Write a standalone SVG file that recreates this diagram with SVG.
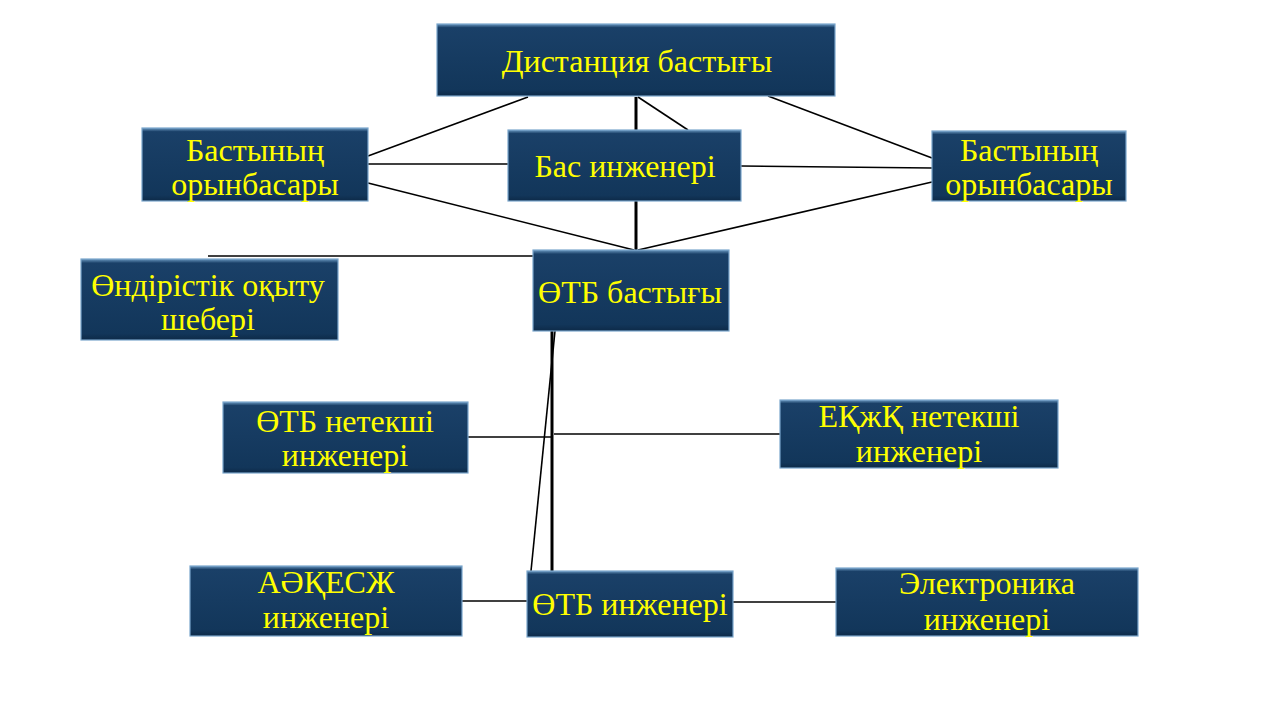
<svg xmlns="http://www.w3.org/2000/svg" width="1280" height="720" viewBox="0 0 1280 720">
<defs>
<linearGradient id="bev" x1="0" y1="0" x2="0" y2="1">
<stop offset="0" stop-color="#6a98c0"/>
<stop offset="0.05" stop-color="#1a4068"/>
<stop offset="0.92" stop-color="#12365a"/>
<stop offset="1" stop-color="#0d2a48"/>
</linearGradient>
</defs>
<style>
.box{fill:url(#bev);stroke:#7aa6cc;stroke-width:1.2}
.t{font-family:"Liberation Serif","Times New Roman",serif;fill:#ffff00;font-size:32px;text-anchor:middle}
.c line{stroke:#000;stroke-width:1.6}
.c .thick{stroke-width:3}
</style>
<rect width="1280" height="720" fill="#fff"/>
<g class="c" id="connectors">
<line x1="528" y1="97" x2="368" y2="156"/>
<line x1="636" y1="97" x2="636" y2="130" class="thick"/>
<line x1="638" y1="97" x2="688" y2="130"/>
<line x1="768" y1="96" x2="932" y2="158"/>
<line x1="368" y1="164" x2="508" y2="164"/>
<line x1="741" y1="166" x2="932" y2="168"/>
<line x1="368" y1="183" x2="634" y2="250"/>
<line x1="932" y1="182" x2="638" y2="250"/>
<line x1="636" y1="201" x2="636" y2="250" class="thick"/>
<line x1="208" y1="256" x2="533" y2="256"/>
<line x1="552" y1="331" x2="552" y2="571" class="thick"/>
<line x1="555" y1="331" x2="531" y2="571"/>
<line x1="468" y1="437" x2="552" y2="437"/>
<line x1="554" y1="434" x2="780" y2="434"/>
<line x1="462" y1="601" x2="527" y2="601"/>
<line x1="733" y1="602" x2="836" y2="602"/>
</g>
<g id="n1"><rect class="box" x="437" y="24" width="398" height="72"/><text class="t" x="637" y="72">Дистанция бастығы</text></g>
<g id="n2"><rect class="box" x="142" y="128" width="226" height="73"/><text class="t" x="255" y="161">Бастының</text><text class="t" x="255" y="195">орынбасары</text></g>
<g id="n3"><rect class="box" x="508" y="130" width="233" height="71"/><text class="t" x="625" y="177">Бас инженері</text></g>
<g id="n4"><rect class="box" x="932" y="131" width="194" height="70"/><text class="t" x="1029" y="161">Бастының</text><text class="t" x="1029" y="195">орынбасары</text></g>
<g id="n5"><rect class="box" x="81" y="259" width="257" height="81"/><text class="t" x="208" y="296">Өндірістік оқыту</text><text class="t" x="208" y="330">шебері</text></g>
<g id="n6"><rect class="box" x="533" y="250" width="196" height="81"/><text class="t" x="630" y="303">ӨТБ бастығы</text></g>
<g id="n7"><rect class="box" x="223" y="402" width="245" height="71"/><text class="t" x="345" y="432">ӨТБ нетекші</text><text class="t" x="345" y="466">инженері</text></g>
<g id="n8"><rect class="box" x="780" y="400" width="278" height="68"/><text class="t" x="919" y="427">ЕҚжҚ нетекші</text><text class="t" x="919" y="462">инженері</text></g>
<g id="n9"><rect class="box" x="190" y="566" width="272" height="70"/><text class="t" x="326" y="593">АӘҚЕСЖ</text><text class="t" x="326" y="628">инженері</text></g>
<g id="n10"><rect class="box" x="527" y="571" width="206" height="66"/><text class="t" x="630" y="615">ӨТБ инженері</text></g>
<g id="n11"><rect class="box" x="836" y="568" width="302" height="68"/><text class="t" x="987" y="594">Электроника</text><text class="t" x="987" y="630">инженері</text></g>
</svg>
